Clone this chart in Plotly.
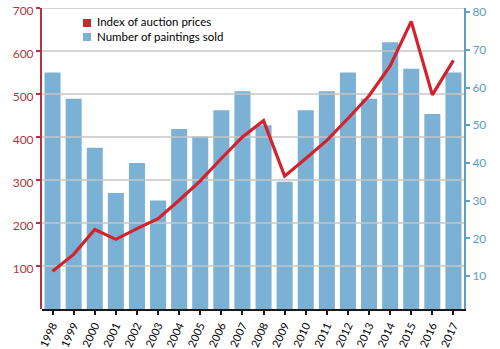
import plotly.graph_objects as go

years = list(range(1998, 2018))
year_labels = [str(y) for y in years]
paintings_sold = [64, 57, 44, 32, 40, 30, 49, 47, 54, 59, 50, 35, 54, 59, 64, 57, 72, 65, 53, 64]
price_index = [88, 127, 185, 162, 187, 210, 253, 298, 350, 400, 438, 309, 350, 392, 443, 496, 565, 669, 498, 578]
left_ticks = [100, 200, 300, 400, 500, 600, 700]
right_ticks = [10, 20, 30, 40, 50, 60, 70, 80]

RED = "#d3222c"
RED_TXT = "#b3343e"
BLUE = "#7ab1d4"
BLUE_AX = "#5e9ec6"
GRID = "#c6c6c6"
FONT = "Lato"

x_lo, x_hi = years[0] - 0.5, years[-1] + 0.5

fig = go.Figure()

# bars (right axis)
fig.add_trace(go.Bar(
    x=year_labels, y=paintings_sold, name="Number of paintings sold",
    marker=dict(color=BLUE, line=dict(width=0)),
    xaxis="x", yaxis="y", showlegend=False,
))

# horizontal gridlines of the left axis, drawn above the bars but below the line
gx, gy = [], []
for v in left_ticks:
    gx += [x_lo, x_hi, None]
    gy += [v, v, None]
fig.add_trace(go.Scatter(
    x=gx, y=gy, mode="lines", line=dict(color=GRID, width=1.5),
    xaxis="x2", yaxis="y3", hoverinfo="skip", showlegend=False,
))

# price index line (left axis)
fig.add_trace(go.Scatter(
    x=years, y=price_index, name="Index of auction prices",
    mode="lines", line=dict(color=RED, width=3.2),
    xaxis="x2", yaxis="y3", showlegend=False,
))

fig.update_layout(
    width=500, height=349,
    margin=dict(l=42, r=36, t=8, b=40, autoexpand=False),
    paper_bgcolor="white",
    plot_bgcolor="rgba(0,0,0,0)",
    bargap=0.24,
    font=dict(family=FONT, size=12, color="black"),
    xaxis=dict(
        domain=[0, 1], anchor="y", type="category", range=[-0.5, len(years) - 0.5],
        showline=True, linecolor="#1a1a1a", linewidth=2,
        ticks="outside", ticklen=4, tickwidth=1.5, tickcolor="#1a1a1a",
        tickangle=-65, tickfont=dict(size=11, color="black", family=FONT),
        showgrid=False, zeroline=False, automargin=False,
    ),
    yaxis=dict(
        domain=[0, 1], anchor="x", side="right", range=[1.25, 81.1],
        tickvals=right_ticks, showline=True, linecolor=BLUE_AX, linewidth=2,
        ticks="outside", ticklen=4, tickcolor=BLUE_AX, tickwidth=1.5,
        tickfont=dict(size=12, color=BLUE_AX, family=FONT),
        showgrid=False, zeroline=False, automargin=False,
    ),
    xaxis2=dict(
        domain=[0, 1], anchor="y3", type="linear", range=[x_lo, x_hi],
        visible=False, showgrid=False, automargin=False,
    ),
    yaxis3=dict(
        domain=[0, 1], anchor="x2", side="left", range=[0, 700],
        tickvals=left_ticks, showline=True, linecolor=RED_TXT, linewidth=2,
        ticks="outside", ticklen=4, tickcolor=RED_TXT, tickwidth=1.5,
        tickfont=dict(size=12, color=RED_TXT, family=FONT),
        ticklabelshift=3,
        showgrid=False, zeroline=False, automargin=False,
    ),
)

# legend: coloured squares + one two-line text block
legend_items = [("Index of auction prices", RED), ("Number of paintings sold", BLUE)]
for i, (label, color) in enumerate(legend_items):
    yc = 23 + i * 14
    fig.add_shape(type="rect", xref="paper", yref="paper",
                  x0=(83 - 42) / 422, x1=(91 - 42) / 422,
                  y0=(309 - yc - 4) / 301, y1=(309 - yc + 4) / 301,
                  fillcolor=color, line=dict(width=0), layer="above")
fig.add_annotation(text="<br>".join(lbl for lbl, _ in legend_items),
                   xref="paper", yref="paper",
                   x=(95 - 42) / 422, y=(309 - 29.5) / 301,
                   xanchor="left", yanchor="middle", align="left", showarrow=False,
                   font=dict(size=11.5, color="black", family=FONT))

fig.write_html("out.html")
